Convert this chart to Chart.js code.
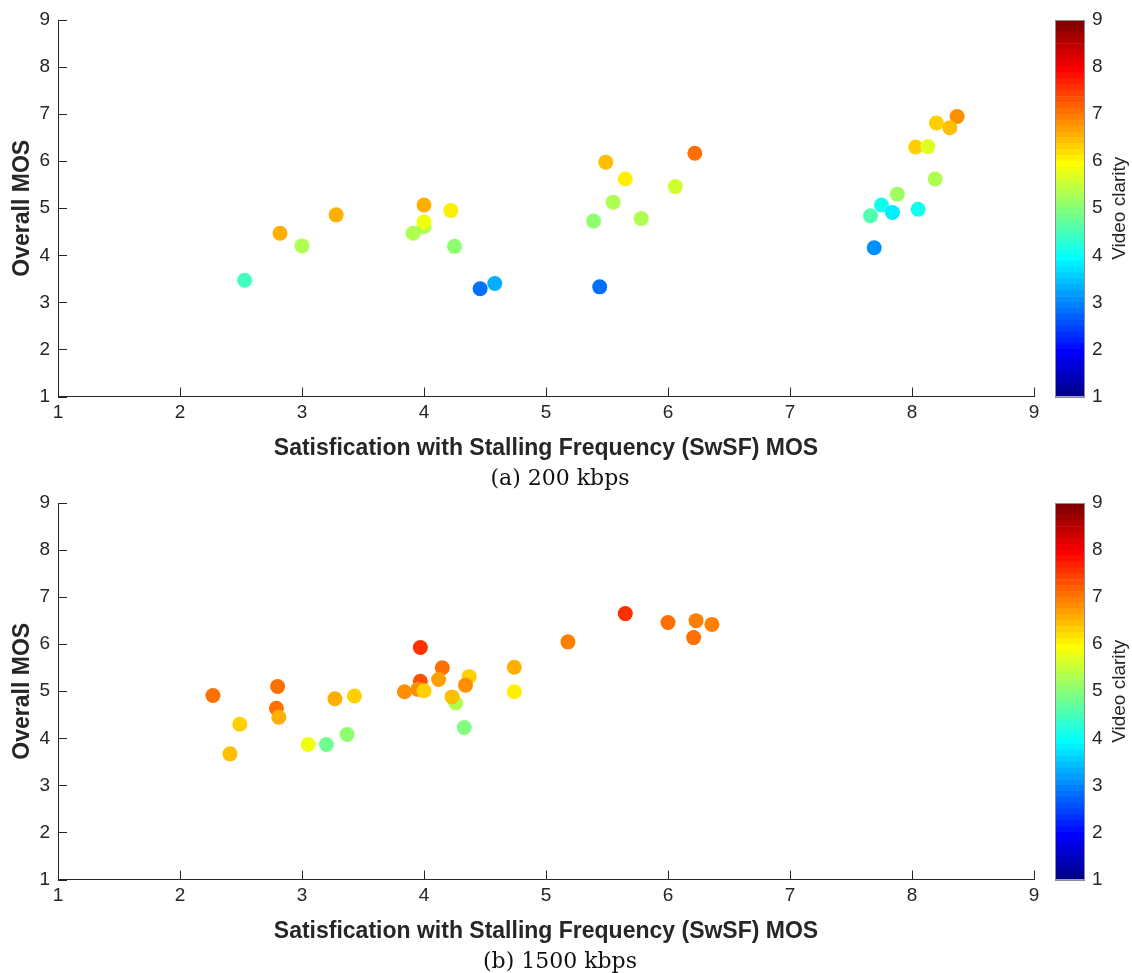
<!DOCTYPE html>
<html>
<head>
<meta charset="utf-8">
<title>SwSF vs Overall MOS</title>
<script src="https://cdn.jsdelivr.net/npm/chart.js@4.4.0/dist/chart.umd.min.js"></script>
<style>
  body { margin: 0; background: #fff; }
  #page { position: relative; width: 1132px; height: 973px; overflow: hidden; }
  .plot { position: absolute; left: 0; width: 1045px; height: 470px; }
  .cbar { position: absolute; left: 1040px; width: 92px; height: 470px; }
  .caption {
    position: absolute; left: 0; width: 1120px; text-align: center;
    font: 22px "DejaVu Serif", "Liberation Serif", serif; color: #111;
    line-height: 24px;
  }
</style>
</head>
<body>
<div id="page">
  <canvas id="plot200" class="plot" width="1045" height="470" style="top:0"></canvas>
  <canvas id="cbar200" class="cbar" width="92" height="470" style="top:0"></canvas>
  <div class="caption" style="top:466px">(a) 200 kbps</div>
  <canvas id="plot1500" class="plot" width="1045" height="470" style="top:483px"></canvas>
  <canvas id="cbar1500" class="cbar" width="92" height="470" style="top:483px"></canvas>
  <div class="caption" style="top:949px">(b) 1500 kbps</div>
</div>
<script>
// 200 kbps
const swsf200 = [2.53, 2.82, 3.00, 3.28, 4.00, 4.22, 4.00, 3.91, 4.00, 4.25, 4.46, 4.58,
  5.49, 5.65, 6.22, 6.06, 5.55, 5.39, 5.78, 5.44,
  8.37, 8.20, 8.31, 8.03, 8.13, 8.19, 7.88, 7.75, 7.66, 7.84, 8.05, 7.69];
const overall200 = [3.47, 4.47, 4.20, 4.86, 5.07, 4.95, 4.61, 4.47, 4.71, 4.19, 3.29, 3.40,
  5.98, 5.62, 6.17, 5.46, 5.13, 4.73, 4.78, 3.33,
  6.95, 6.81, 6.71, 6.30, 6.31, 5.62, 5.30, 5.07, 4.84, 4.91, 4.98, 4.16];
const clarity200 = [4.4, 6.6, 5.3, 6.6, 6.6, 6.0, 5.25, 5.35, 5.75, 5.0, 2.75, 3.25,
  6.45, 6.0, 7.1, 5.5, 5.25, 5.0, 5.25, 2.75,
  6.75, 6.3, 6.45, 6.3, 5.65, 5.25, 5.15, 4.1, 4.5, 3.75, 4.1, 3.0];

// 1500 kbps
const swsf1500 = [2.27, 2.49, 2.41, 2.80, 2.79, 2.81, 3.05, 3.20, 3.37, 3.27, 3.43, 3.84,
  3.97, 3.97, 3.95, 4.00, 4.15, 4.12, 4.26, 4.23, 4.37, 4.34, 4.33,
  4.74, 4.74, 5.18, 5.65, 6.00, 6.23, 6.21, 6.36];
const overall1500 = [4.91, 4.30, 3.67, 5.10, 4.64, 4.45, 3.87, 3.87, 4.08, 4.84, 4.90, 4.99,
  5.93, 5.21, 5.04, 5.01, 5.50, 5.25, 4.75, 4.88, 5.31, 5.13, 4.23,
  5.51, 4.99, 6.05, 6.65, 6.46, 6.50, 6.14, 6.42];
const clarity1500 = [7.0, 6.25, 6.45, 7.1, 7.0, 6.55, 5.75, 4.75, 5.0, 6.55, 6.3, 6.75,
  7.5, 7.25, 6.75, 6.35, 7.1, 6.7, 5.35, 6.45, 6.3, 6.75, 4.9,
  6.6, 6.0, 6.9, 7.6, 7.0, 6.95, 7.1, 6.9];

const axisMin = 1;
const axisMax = 9;
const xTitle = 'Satisfication with Stalling Frequency (SwSF) MOS';
const yTitle = 'Overall MOS';
const barTitle = 'Video clarity';

const INK = '#262626';
const SANS = '"Liberation Sans", Arial, Helvetica, sans-serif';
const LEVELS = 64;

// jet colormap with 64 entries, same construction as MATLAB's jet(64)
function jetChannel(j) {
  if (j < 1) return 0;
  if (j <= 16) return j / 16;
  if (j <= 31) return 1;
  if (j <= 47) return (48 - j) / 16;
  return 0;
}
function jet(i) {
  const r = jetChannel(i - 24), g = jetChannel(i - 8), b = jetChannel(i + 8);
  return `rgb(${Math.round(r * 255)},${Math.round(g * 255)},${Math.round(b * 255)})`;
}
function colorFor(v) {
  const idx = Math.floor((v - axisMin) / (axisMax - axisMin) * LEVELS) + 1;
  return jet(Math.min(LEVELS, Math.max(1, idx)));
}

// ticks drawn on the inside of the axes
const inwardTicks = {
  id: 'inwardTicks',
  beforeDatasetsDraw(chart, args, opts) {
    const ctx = chart.ctx;
    const len = opts.length || 9;
    ctx.save();
    ctx.strokeStyle = INK;
    ctx.lineWidth = 1;
    ctx.beginPath();
    Object.values(chart.scales).forEach(s => {
      if (s.options.display === false) return;
      s.ticks.forEach((t, i) => {
        const p = Math.round(s.getPixelForTick(i)) + 0.5;
        if (s.position === 'bottom') {
          ctx.moveTo(p, s.top); ctx.lineTo(p, s.top - len);
        } else if (s.position === 'left') {
          ctx.moveTo(s.right, p); ctx.lineTo(s.right + len, p);
        } else if (s.position === 'right') {
          ctx.moveTo(s.left, p); ctx.lineTo(s.left - len, p);
        }
      });
    });
    ctx.stroke();
    ctx.restore();
  }
};

// outline and rotated label of the colour bar
const barFrame = {
  id: 'barFrame',
  afterDatasetsDraw(chart) {
    const { ctx, chartArea: a } = chart;
    ctx.save();
    ctx.strokeStyle = '#8c8c8c';
    ctx.lineWidth = 1;
    ctx.strokeRect(Math.round(a.left) + 0.5, Math.round(a.top) + 0.5,
      Math.round(a.right - a.left) - 1, Math.round(a.bottom - a.top));
    ctx.translate(80, (a.top + a.bottom) / 2);
    ctx.rotate(-Math.PI / 2);
    ctx.fillStyle = INK;
    ctx.font = '19px ' + SANS;
    ctx.textAlign = 'center';
    ctx.textBaseline = 'middle';
    ctx.fillText(barTitle, 0, 0);
    ctx.restore();
  }
};

function scatterChart(id, xs, ys, cs) {
  const points = xs.map((x, i) => ({ x, y: ys[i] }));
  return new Chart(document.getElementById(id), {
    type: 'scatter',
    data: {
      datasets: [{
        data: points,
        pointRadius: 7.5,
        pointBorderWidth: 0,
        pointBackgroundColor: ctx => colorFor(cs[ctx.dataIndex]),
        borderColor: 'rgba(0,0,0,0)'
      }]
    },
    options: {
      responsive: false,
      animation: false,
      events: [],
      devicePixelRatio: 1,
      layout: { padding: { top: 20, right: 11, bottom: 0, left: 0 } },
      plugins: { legend: { display: false }, tooltip: { enabled: false }, inwardTicks: { length: 9 } },
      scales: {
        x: {
          type: 'linear', position: 'bottom', min: axisMin, max: axisMax,
          afterFit: s => { s.height = 73.5; },
          grid: { display: false, drawTicks: false },
          border: { display: true, color: INK, width: 1 },
          ticks: { stepSize: 1, padding: 5, color: INK, font: { family: SANS, size: 19 } },
          title: { display: true, text: xTitle, color: INK, padding: { top: 0, bottom: 8 },
            font: { family: SANS, size: 23, weight: 'bold' } }
        },
        y: {
          type: 'linear', position: 'left', min: axisMin, max: axisMax,
          afterFit: s => { s.width = 58; },
          grid: { display: false, drawTicks: false },
          border: { display: true, color: INK, width: 1 },
          ticks: { stepSize: 1, padding: 8, color: INK, font: { family: SANS, size: 19 } },
          title: { display: true, text: yTitle, color: INK, padding: { top: 9, bottom: 0 },
            font: { family: SANS, size: 23, weight: 'bold' } }
        }
      }
    },
    plugins: [inwardTicks]
  });
}

function colorBar(id) {
  const step = (axisMax - axisMin) / LEVELS;
  const datasets = [];
  for (let i = 1; i <= LEVELS; i++) {
    const lo = axisMin + (i - 1) * step;
    datasets.push({
      data: [[lo, lo + step]],
      backgroundColor: jet(i),
      borderWidth: 0,
      grouped: false,
      categoryPercentage: 1,
      barPercentage: 1
    });
  }
  return new Chart(document.getElementById(id), {
    type: 'bar',
    data: { labels: [''], datasets },
    options: {
      responsive: false,
      animation: false,
      events: [],
      devicePixelRatio: 1,
      layout: { padding: { top: 20, right: 0, bottom: 73.5, left: 15 } },
      plugins: { legend: { display: false }, tooltip: { enabled: false }, inwardTicks: { length: 4 } },
      scales: {
        x: { display: false },
        y: {
          position: 'right', min: axisMin, max: axisMax,
          afterFit: s => { s.width = 47; },
          grid: { display: false, drawTicks: false },
          border: { display: false },
          ticks: { stepSize: 1, padding: 7, color: INK, font: { family: SANS, size: 19 } }
        }
      }
    },
    plugins: [inwardTicks, barFrame]
  });
}

scatterChart('plot200', swsf200, overall200, clarity200);
colorBar('cbar200');
scatterChart('plot1500', swsf1500, overall1500, clarity1500);
colorBar('cbar1500');
</script>
</body>
</html>
